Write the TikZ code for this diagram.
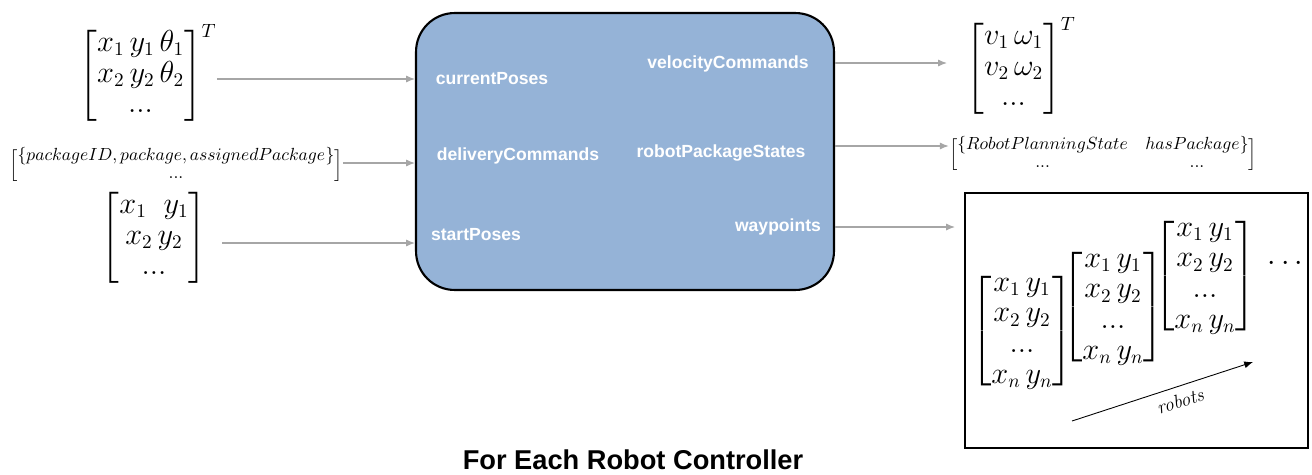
\documentclass[tikz,border=0pt]{standalone}
\usepackage{amsmath}
\usepackage{fontspec}
\setsansfont{Liberation Sans}
\usetikzlibrary{arrows.meta}
\definecolor{ctrlblue}{HTML}{95B3D7}
\definecolor{flowgray}{HTML}{A6A6A6}
\delimiterfactor=800
\delimitershortfall=9pt

\begin{document}
\begin{tikzpicture}[x=0.02cm,y=-0.02cm,
    flow/.style={draw=flowgray, line width=0.7pt, -{Latex[length=5pt,width=4pt]}},
    port/.style={text=white, font=\sffamily\bfseries\fontsize{10}{12}\selectfont, inner sep=0pt},
    mat/.style={inner sep=0pt, font=\fontsize{16}{17.5}\selectfont},
    smallmat/.style={inner sep=0pt, font=\fontsize{10}{12}\selectfont}]
  \useasboundingbox (0,0) rectangle (1312,474);

  % controller block
  \node[draw, line width=1.2pt, fill=ctrlblue, rounded corners=22pt,
        minimum width=8.36cm, minimum height=5.54cm] (box) at (625,151.5) {};

  % ports
  \node[port] (curposes) at (492,79) {currentPoses};
  \node[port] (delivery) at (518,156) {deliveryCommands};
  \node[port] (startposes) at (476,235) {startPoses};
  \node[port] (velcmd) at (728,64) {velocityCommands};
  \node[port] (pkgstates) at (721,153) {robotPackageStates};
  \node[port] (wpts) at (778,227) {waypoints};

  % inputs
  \node[mat] (curpos) at (148,73)
    {$\begin{bmatrix} x_1\,y_1\,\theta_1\\ x_2\,y_2\,\theta_2\\ ... \end{bmatrix}^{T}$};
  \node[smallmat] (pkg) at (176,166)
    {$\renewcommand{\arraystretch}{0.85}\begin{bmatrix} \{packageID, package, assignedPackage\}\\ ... \end{bmatrix}$};
  \node[mat] (startpos) at (154,238)
    {$\begin{bmatrix} x_1\;\;y_1\\ x_2\,y_2\\ ... \end{bmatrix}$};

  % outputs
  \node[mat] (vel) at (1021,66)
    {$\begin{bmatrix} v_1\,\omega_1\\ v_2\,\omega_2\\ ... \end{bmatrix}^{T}$};
  \node[smallmat] (states) at (1103,155)
    {$\renewcommand{\arraystretch}{0.85}\begin{bmatrix} \{RobotPlanningState & hasPackage\}\\ ... & ... \end{bmatrix}$};

  % waypoints per robot
  \node[draw, line width=1.2pt, minimum width=6.86cm, minimum height=5.1cm] (wbox) at (1136.5,320.5) {};
  \node[mat] (wa) at (1022,331)
    {$\begin{bmatrix} x_1\,y_1\\ x_2\,y_2\\ ...\\ x_n\,y_n \end{bmatrix}$};
  \node[mat] (wb) at (1113,307)
    {$\begin{bmatrix} x_1\,y_1\\ x_2\,y_2\\ ...\\ x_n\,y_n \end{bmatrix}$};
  \node[mat] (wc) at (1205,276)
    {$\begin{bmatrix} x_1\,y_1\\ x_2\,y_2\\ ...\\ x_n\,y_n \end{bmatrix}$};
  \node[mat] (wmore) at (1288,264) {$\cdots$};
  \coordinate (rfrom) at (1072,421);
  \coordinate (rto) at (1253,362);
  \draw[line width=0.5pt, -{Latex[length=5pt,width=4pt]}] (rfrom) -- (rto);
  \node[rotate=18, font=\itshape\fontsize{11}{13}\selectfont] (robots) at (1180,401) {robots};

  % connectors
  \coordinate (in3) at (222,243);
  \coordinate (out1) at (947,63);
  \coordinate (out3) at (955,227);
  \draw[flow] (curpos.east |- 0,79) -- (box.west |- 0,79);
  \draw[flow] (pkg.east |- 0,163) -- (box.west |- 0,163);
  \draw[flow] (in3) -- (in3 -| box.west);
  \draw[flow] (box.east |- out1) -- (out1);
  \draw[flow] (box.east |- 0,146) -- (states.west |- 0,146);
  \draw[flow] (box.east |- out3) -- (out3);

  \node[font=\sffamily\bfseries\fontsize{15.5}{18}\selectfont] (title) at (633,460) {For Each Robot Controller};
\end{tikzpicture}
\end{document}
